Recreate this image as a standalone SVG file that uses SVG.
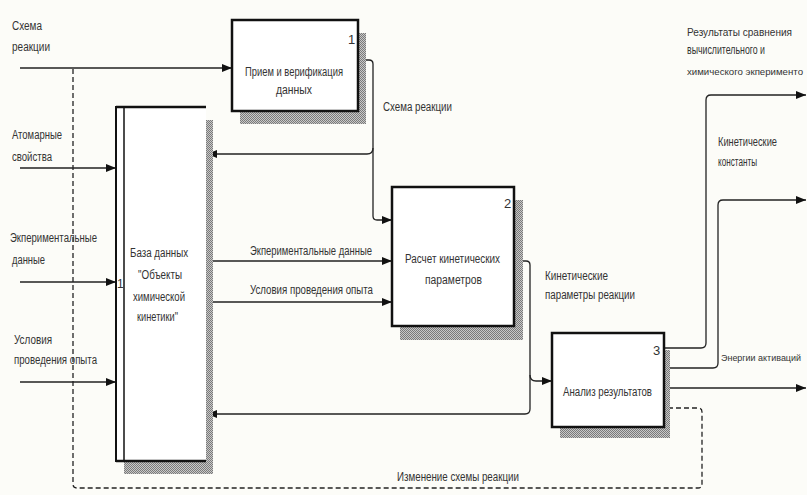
<svg xmlns="http://www.w3.org/2000/svg" width="807" height="495" viewBox="0 0 807 495">
<defs>
<pattern id="hatch" width="2" height="2" patternUnits="userSpaceOnUse">
<rect width="2" height="2" fill="#c8c8c8"/>
<rect width="1" height="1" fill="#7a7a7a"/>
<rect x="1" y="1" width="1" height="1" fill="#7a7a7a"/>
</pattern>
<marker id="arr" viewBox="0 0 10 8" refX="10" refY="4" markerWidth="10" markerHeight="8" markerUnits="userSpaceOnUse" orient="auto">
<path d="M0,0 L10,4 L0,8 Z" fill="#111"/>
</marker>
<style>
.t{font-family:"Liberation Sans",Arial,sans-serif;font-size:12px;fill:#333}
.s{font-size:10px}
.xs{font-size:9.5px}
.n{font-family:"Liberation Sans",Arial,sans-serif;font-size:13px;fill:#333}
.box{fill:#fff;stroke:#111;stroke-width:2.5}
.sh{fill:url(#hatch)}
.c{fill:none;stroke:#222;stroke-width:1.3}
.ca{fill:none;stroke:#222;stroke-width:1.3;marker-end:url(#arr)}
.d{fill:none;stroke:#222;stroke-width:1.3;stroke-dasharray:5 3}
</style>
</defs>
<rect width="807" height="495" fill="#fcfcf8"/>

<g id="connectors">
<path class="ca" d="M20,68 H232"/>
<path class="ca" d="M20,168 H116"/>
<path class="ca" d="M20,282 H116"/>
<path class="ca" d="M20,382 H116"/>
<path class="ca" d="M358,60 H369 Q373,60 373,64 V216 Q373,220 377,220 H392"/>
<path class="ca" d="M373,148 Q373,154 367,154 H207"/>
<path class="ca" d="M207,261 H392"/>
<path class="ca" d="M207,302 H392"/>
<path class="ca" d="M514,261 H526 Q530,261 530,265 V409 Q530,414 525,414 H207"/>
<path class="ca" d="M530,375 Q530,381 536,381 H552"/>
<path class="ca" d="M664,348 H701 Q706,348 706,343 V100 Q706,95 711,95 H806"/>
<path class="ca" d="M664,368 H713 Q718,368 718,363 V205 Q718,200 723,200 H806"/>
<path class="ca" d="M664,388 H806"/>
<path class="d" d="M73,69 V484 Q73,488 77,488 H698 Q702,488 702,484 V412 Q702,408 698,408 H664"/>
</g>

<g id="node-db">
<rect class="sh" x="124" y="120" width="89" height="354"/>
<rect x="116" y="107" width="90" height="354" fill="#fff"/>
<path d="M116,107 H206 M116,461 H206" stroke="#111" stroke-width="2.5" fill="none"/>
<path d="M116,106 V462" stroke="#111" stroke-width="2" fill="none"/>
<path d="M124,108 V461" stroke="#111" stroke-width="1.5" fill="none"/>
<text class="t" x="130" y="257" textLength="58" lengthAdjust="spacingAndGlyphs">База данных</text>
<text class="t" x="138" y="279" textLength="44" lengthAdjust="spacingAndGlyphs">"Объекты</text>
<text class="t" x="133" y="301" textLength="52" lengthAdjust="spacingAndGlyphs">химической</text>
<text class="t" x="137" y="321" textLength="41" lengthAdjust="spacingAndGlyphs">кинетики"</text>
<text class="t" x="117" y="288" font-size="10">1</text>
</g>

<g id="node-1">
<rect class="sh" x="240" y="33" width="126" height="91"/>
<rect class="box" x="232" y="20" width="126" height="91"/>
<text class="n" x="348" y="44">1</text>
<text class="t" x="245" y="76" textLength="98" lengthAdjust="spacingAndGlyphs">Прием и верификация</text>
<text class="t" x="276" y="94" textLength="36" lengthAdjust="spacingAndGlyphs">данных</text>
</g>

<g id="node-2">
<rect class="sh" x="400" y="200" width="123" height="140"/>
<rect class="box" x="392" y="187" width="122" height="139"/>
<text class="n" x="504" y="208">2</text>
<text class="t" x="405" y="263" textLength="95" lengthAdjust="spacingAndGlyphs">Расчет кинетических</text>
<text class="t" x="425" y="284" textLength="57" lengthAdjust="spacingAndGlyphs">параметров</text>
</g>

<g id="node-3">
<rect class="sh" x="560" y="350" width="110" height="88"/>
<rect class="box" x="552" y="333" width="112" height="94"/>
<text class="n" x="653" y="355">3</text>
<text class="t" x="563" y="396" textLength="89" lengthAdjust="spacingAndGlyphs">Анализ результатов</text>
</g>

<g id="labels">
<text class="t" x="12" y="30" textLength="30" lengthAdjust="spacingAndGlyphs">Схема</text>
<text class="t" x="12" y="51" textLength="38" lengthAdjust="spacingAndGlyphs">реакции</text>
<text class="t" x="12" y="139" textLength="50" lengthAdjust="spacingAndGlyphs">Атомарные</text>
<text class="t" x="12" y="161" textLength="40" lengthAdjust="spacingAndGlyphs">свойства</text>
<text class="t" x="10" y="242" textLength="87" lengthAdjust="spacingAndGlyphs">Экпериментальные</text>
<text class="t" x="12" y="264" textLength="33" lengthAdjust="spacingAndGlyphs">данные</text>
<text class="t" x="14" y="344" textLength="38" lengthAdjust="spacingAndGlyphs">Условия</text>
<text class="t" x="14" y="364" textLength="83" lengthAdjust="spacingAndGlyphs">проведения опыта</text>
<text class="t" x="383" y="111" textLength="69" lengthAdjust="spacingAndGlyphs">Схема реакции</text>
<text class="t" x="250" y="255" textLength="122" lengthAdjust="spacingAndGlyphs">Экпериментальные данные</text>
<text class="t" x="250" y="294" textLength="123" lengthAdjust="spacingAndGlyphs">Условия проведения опыта</text>
<text class="t" x="545" y="280" textLength="63" lengthAdjust="spacingAndGlyphs">Кинетические</text>
<text class="t" x="545" y="299" textLength="90" lengthAdjust="spacingAndGlyphs">параметры реакции</text>
<text class="t s" x="687" y="36" textLength="105" lengthAdjust="spacingAndGlyphs">Результаты сравнения</text>
<text class="t" x="687" y="54" textLength="78" lengthAdjust="spacingAndGlyphs">вычислительного и</text>
<text class="t xs" x="687" y="75" textLength="116" lengthAdjust="spacingAndGlyphs">химического экперименто</text>
<text class="t" x="718" y="146" textLength="59" lengthAdjust="spacingAndGlyphs">Кинетические</text>
<text class="t" x="718" y="166" textLength="39" lengthAdjust="spacingAndGlyphs">константы</text>
<text class="t xs" x="721" y="361" textLength="80" lengthAdjust="spacingAndGlyphs">Энергии активаций</text>
<text class="t" x="397" y="481" textLength="122" lengthAdjust="spacingAndGlyphs">Изменение схемы реакции</text>
</g>
</svg>
